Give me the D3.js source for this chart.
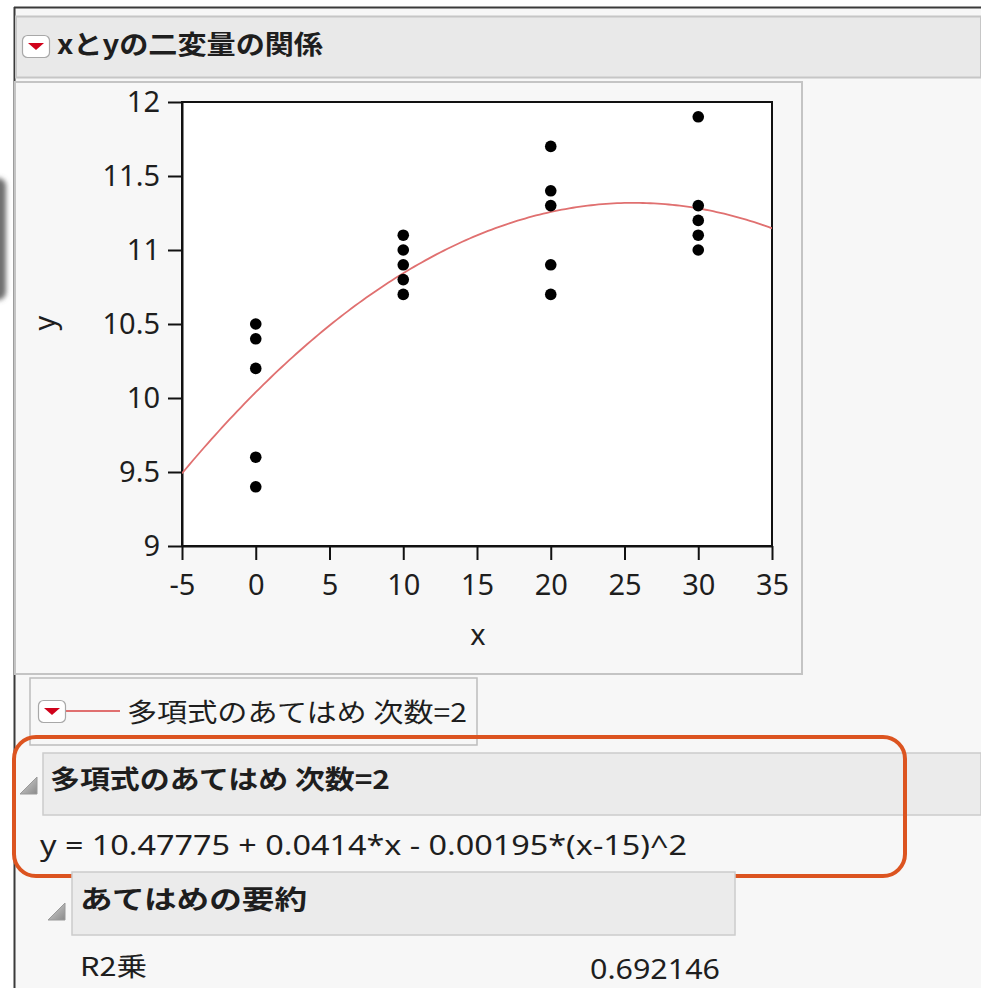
<!DOCTYPE html>
<html>
<head>
<meta charset="utf-8">
<script src="https://cdn.jsdelivr.net/npm/d3@7/dist/d3.min.js"></script>
<style>
  html, body { margin: 0; padding: 0; background: #ffffff; }
  svg { display: block; }
  text { font-family: "Noto Sans", "Noto Sans CJK JP", sans-serif; fill: #1e1e1e; }
  .cjk { font-family: "Noto Sans CJK JP", "Noto Sans", sans-serif; }
</style>
</head>
<body>
<script>
// Observations: x (group level) and y (response)
const xValues = [0, 0, 0, 0, 0, 10, 10, 10, 10, 10, 20, 20, 20, 20, 20, 30, 30, 30, 30, 30];
const yValues = [10.5, 10.4, 10.2, 9.6, 9.4, 11.1, 11.0, 10.9, 10.8, 10.7,
                 11.7, 11.4, 11.3, 10.9, 10.7, 11.9, 11.3, 11.2, 11.1, 11.0];

// Quadratic fit: y = b0 + b1*x + b2*(x - center)^2
const fitCoefs = [10.47775, 0.0414, -0.00195];
const fitCenter = 15;
const rSquare = "0.692146";

const xTicks = [-5, 0, 5, 10, 15, 20, 25, 30, 35];
const yTicks = [9, 9.5, 10, 10.5, 11, 11.5, 12];
const xDomain = [-5, 35];
const yDomain = [9, 12];

const W = 981, H = 988;
const svg = d3.select("body").append("svg").attr("width", W).attr("height", H);

const defs = svg.append("defs");
defs.append("filter").attr("id", "soft").attr("x", "-50%").attr("y", "-50%").attr("width", "200%").attr("height", "200%")
  .append("feGaussianBlur").attr("stdDeviation", 2.5);
const triGrad = defs.append("linearGradient").attr("id", "triGrad").attr("x1", 0).attr("y1", 0).attr("x2", 1).attr("y2", 1);
triGrad.append("stop").attr("offset", "0%").attr("stop-color", "#d8d8d8");
triGrad.append("stop").attr("offset", "100%").attr("stop-color", "#8a8a8a");

// window backdrop
svg.append("rect").attr("x", 0).attr("y", 0).attr("width", W).attr("height", H).attr("fill", "#ffffff");
svg.append("rect").attr("x", -12).attr("y", 178).attr("width", 18).attr("height", 122).attr("rx", 8)
  .attr("fill", "#6e6e6e").attr("filter", "url(#soft)");
svg.append("rect").attr("x", 15).attr("y", 8).attr("width", W - 15).attr("height", H - 8).attr("fill", "#f7f7f7");
svg.append("line").attr("x1", 14).attr("x2", W).attr("y1", 7.5).attr("y2", 7.5).attr("stroke", "#3a3a3a").attr("stroke-width", 2);
svg.append("line").attr("x1", 14.5).attr("x2", 14.5).attr("y1", 7).attr("y2", H).attr("stroke", "#3a3a3a").attr("stroke-width", 2);

// red disclosure button
function redButton(x, y) {
  const g = svg.append("g").attr("transform", `translate(${x},${y})`);
  g.append("rect").attr("x", 0.5).attr("y", 0.5).attr("width", 27).attr("height", 22).attr("rx", 5)
    .attr("fill", "#ffffff").attr("stroke", "#a8a8a8").attr("stroke-width", 1.2);
  g.append("path").attr("d", "M6,8 L22,8 L14,15 Z").attr("fill", "#d0021b");
  return g;
}
// grey outline triangle
function greyTri(x, y) {
  svg.append("path").attr("d", `M${x},${y + 20} L${x + 17},${y + 20} L${x + 17},${y + 3} Z`)
    .attr("fill", "url(#triGrad)").attr("stroke", "#9a9a9a").attr("stroke-width", 1);
}

// title bar
svg.append("rect").attr("x", 16).attr("y", 16.5).attr("width", W - 16).attr("height", 61)
  .attr("fill", "#e9e9e9").attr("stroke", "#c6c6c6").attr("stroke-width", 2);
redButton(22, 35);
svg.append("text").attr("class", "cjk").attr("x", 57).attr("y", 45).attr("dy", "0.36em")
  .attr("font-size", 26).attr("font-weight", "bold").attr("textLength", 266).attr("lengthAdjust", "spacingAndGlyphs")
  .text("xとyの二変量の関係");

// plot frame panel
svg.append("rect").attr("x", 15).attr("y", 82).attr("width", 787).attr("height", 592)
  .attr("fill", "#f7f7f7").attr("stroke", "#c4c4c4").attr("stroke-width", 2);

// scatter plot
const plot = { left: 182, right: 772, top: 102, bottom: 546 };
const x = d3.scaleLinear().domain(xDomain).range([plot.left, plot.right]);
const y = d3.scaleLinear().domain(yDomain).range([plot.bottom, plot.top]);

svg.append("rect").attr("x", plot.left).attr("y", plot.top)
  .attr("width", plot.right - plot.left).attr("height", plot.bottom - plot.top)
  .attr("fill", "#ffffff").attr("stroke", "#111").attr("stroke-width", 2);

const xAxis = svg.append("g").attr("transform", `translate(0,${plot.bottom})`)
  .call(d3.axisBottom(x).tickValues(xTicks).tickSize(14).tickSizeOuter(0).tickPadding(10).tickFormat(d => String(d)));
const yAxis = svg.append("g").attr("transform", `translate(${plot.left},0)`)
  .call(d3.axisLeft(y).tickValues(yTicks).tickSize(14).tickSizeOuter(0).tickPadding(8).tickFormat(d => String(d)));
[xAxis, yAxis].forEach(a => {
  a.select(".domain").attr("stroke", "#111").attr("stroke-width", 2);
  a.selectAll(".tick line").attr("stroke", "#111").attr("stroke-width", 2);
  a.selectAll(".tick text").attr("font-size", 29).attr("fill", "#1e1e1e")
    .attr("font-family", "\"Noto Sans\", sans-serif");
});
xAxis.selectAll(".tick text").attr("dy", "0.71em").attr("y", 28);

svg.append("text").attr("x", 478).attr("y", 635).attr("dy", "0.36em").attr("text-anchor", "middle")
  .attr("font-size", 29).text("x");
svg.append("text").attr("transform", "translate(45,323) rotate(-90)").attr("dy", "0.36em")
  .attr("text-anchor", "middle").attr("font-size", 29).text("y");

// fitted curve
const fit = xv => fitCoefs[0] + fitCoefs[1] * xv + fitCoefs[2] * (xv - fitCenter) ** 2;
const curveXs = d3.range(xDomain[0], xDomain[1] + 0.001, 0.25);
const clip = defs.append("clipPath").attr("id", "plotClip");
clip.append("rect").attr("x", plot.left).attr("y", plot.top)
  .attr("width", plot.right - plot.left).attr("height", plot.bottom - plot.top);
svg.append("path").datum(curveXs).attr("clip-path", "url(#plotClip)")
  .attr("fill", "none").attr("stroke", "#e07070").attr("stroke-width", 1.8)
  .attr("d", d3.line().x(d => x(d)).y(d => y(fit(d))));

// points
svg.append("g").selectAll("circle").data(xValues.map((xv, i) => [xv, yValues[i]])).join("circle")
  .attr("cx", d => x(d[0])).attr("cy", d => y(d[1])).attr("r", 5.8).attr("fill", "#000");

// legend box
svg.append("rect").attr("x", 30).attr("y", 678).attr("width", 447).attr("height", 67)
  .attr("fill", "#f7f7f7").attr("stroke", "#bdbdbd").attr("stroke-width", 1.5);
redButton(38, 700);
svg.append("line").attr("x1", 66).attr("x2", 120).attr("y1", 711).attr("y2", 711)
  .attr("stroke", "#e07070").attr("stroke-width", 1.8);
svg.append("text").attr("class", "cjk").attr("x", 127).attr("y", 713).attr("dy", "0.36em")
  .attr("font-size", 26).attr("textLength", 340).attr("lengthAdjust", "spacingAndGlyphs")
  .text("多項式のあてはめ 次数=2");

// fit report header
svg.append("rect").attr("x", 43).attr("y", 753).attr("width", W - 43).attr("height", 62)
  .attr("fill", "#ebebeb").attr("stroke", "#cccccc").attr("stroke-width", 1.5);
greyTri(20, 774);
svg.append("text").attr("class", "cjk").attr("x", 50).attr("y", 780).attr("dy", "0.36em")
  .attr("font-size", 26).attr("font-weight", "bold").attr("textLength", 340).attr("lengthAdjust", "spacingAndGlyphs")
  .text("多項式のあてはめ 次数=2");

// equation
const eqText = `y = ${fitCoefs[0]} + ${fitCoefs[1]}*x - ${Math.abs(fitCoefs[2])}*(x-${fitCenter})^2`;
svg.append("text").attr("x", 40).attr("y", 845).attr("dy", "0.36em")
  .attr("font-size", 27).attr("textLength", 647).attr("lengthAdjust", "spacingAndGlyphs")
  .text(eqText);

// highlight outline around the fit report
svg.append("rect").attr("x", 14).attr("y", 737).attr("width", 891).attr("height", 139).attr("rx", 22)
  .attr("fill", "none").attr("stroke", "#dc5420").attr("stroke-width", 4);

// summary of fit
svg.append("rect").attr("x", 72).attr("y", 872).attr("width", 663).attr("height", 63)
  .attr("fill", "#ebebeb").attr("stroke", "#cccccc").attr("stroke-width", 1.5);
greyTri(48, 900);
svg.append("text").attr("class", "cjk").attr("x", 80).attr("y", 900).attr("dy", "0.36em")
  .attr("font-size", 26).attr("font-weight", "bold").attr("textLength", 227).attr("lengthAdjust", "spacingAndGlyphs")
  .text("あてはめの要約");
svg.append("text").attr("class", "cjk").attr("x", 80).attr("y", 967).attr("dy", "0.36em")
  .attr("font-size", 26).attr("textLength", 67).attr("lengthAdjust", "spacingAndGlyphs")
  .text("R2乗");
svg.append("text").attr("x", 720).attr("y", 969).attr("dy", "0.36em").attr("text-anchor", "end")
  .attr("font-size", 27).attr("textLength", 130).attr("lengthAdjust", "spacingAndGlyphs")
  .text(rSquare);
</script>
</body>
</html>
